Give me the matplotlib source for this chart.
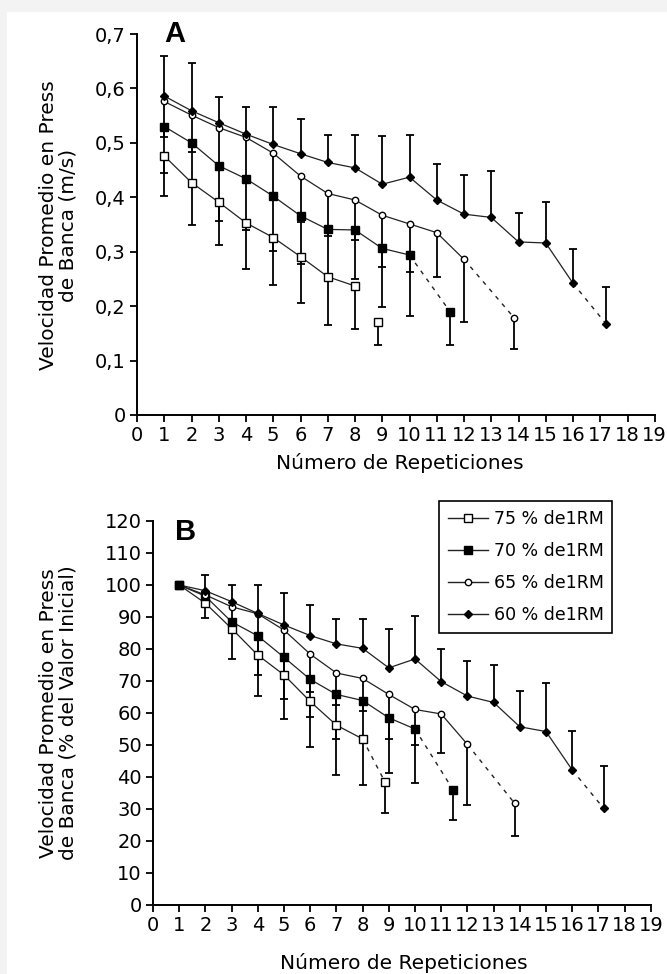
import numpy as np
import matplotlib
matplotlib.use('Agg')
import matplotlib.pyplot as plt
from matplotlib.patches import Rectangle
from matplotlib.lines import Line2D

plt.rcParams['font.family'] = ['DejaVu Sans']

# ---------------- Panel A data (m/s) ----------------
xA_75 = [1, 2, 3, 4, 5, 6, 7, 8, 8.83]
vA_75 = [0.476, 0.427, 0.391, 0.353, 0.326, 0.291, 0.254, 0.237, 0.171]
loA_75 = [0.074, 0.077, 0.079, 0.085, 0.087, 0.086, 0.089, 0.079, 0.042]
hiA_75 = [0, 0, 0, 0, 0, 0, 0, 0, 0]

xA_70 = [1, 2, 3, 4, 5, 6, 7, 8, 9, 10, 11.5]
vA_70 = [0.530, 0.500, 0.458, 0.434, 0.402, 0.366, 0.341, 0.340, 0.306, 0.294, 0.189]
loA_70 = [0.085, 0.073, 0.102, 0.094, 0.101, 0.089, 0.090, 0.090, 0.107, 0.113, 0.060]
hiA_70 = [0] * 11

xA_65 = [1, 2, 3, 4, 5, 6, 7, 8, 9, 10, 11, 12, 13.85]
vA_65 = [0.576, 0.551, 0.528, 0.510, 0.481, 0.439, 0.407, 0.395, 0.367, 0.351, 0.335, 0.286, 0.178]
loA_65 = [0.065, 0.067, 0.070, 0.070, 0.079, 0.084, 0.079, 0.073, 0.095, 0.088, 0.081, 0.116, 0.056]
hiA_65 = [0] * 13

xA_60 = [1, 2, 3, 4, 5, 6, 7, 8, 9, 10, 11, 12, 13, 14, 15, 16, 17.22]
vA_60 = [0.586, 0.559, 0.537, 0.516, 0.497, 0.480, 0.464, 0.454, 0.424, 0.437,
         0.395, 0.369, 0.363, 0.318, 0.316, 0.242, 0.167]
loA_60 = [0] * 17
hiA_60 = [0.074, 0.087, 0.047, 0.050, 0.069, 0.064, 0.050, 0.060, 0.088, 0.078,
          0.067, 0.072, 0.085, 0.054, 0.075, 0.063, 0.068]

# ---------------- Panel B data (% of initial) ----------------
xB_75 = [1, 2, 3, 4, 5, 6, 7, 8, 8.85]
vB_75 = [100, 94.3, 86.4, 78.1, 71.9, 63.6, 56.2, 51.9, 38.5]
loB_75 = [0, 4.7, 9.6, 12.7, 13.8, 14.3, 15.6, 14.4, 9.9]
hiB_75 = [0] * 9

xB_70 = [1, 2, 3, 4, 5, 6, 7, 8, 9, 10, 11.46]
vB_70 = [100, 96.5, 88.5, 84.1, 77.4, 70.5, 65.8, 63.9, 58.5, 55.0, 35.9]
loB_70 = [0, 0, 0, 12.3, 13.0, 11.9, 13.9, 12.0, 17.4, 16.9, 9.3]
hiB_70 = [0] * 11

xB_65 = [1, 2, 3, 4, 5, 6, 7, 8, 9, 10, 11, 12, 13.8]
vB_65 = [100, 96.9, 93.2, 91.0, 85.9, 78.4, 72.5, 70.8, 65.8, 61.1, 59.7, 50.2, 31.8]
loB_65 = [0, 3, 5, 12.5, 13.5, 11.7, 10.1, 10.1, 13.9, 11.1, 12.3, 18.9, 10.2]
hiB_65 = [0] * 13

xB_60 = [1, 2, 3, 4, 5, 6, 7, 8, 9, 10, 11, 12, 13, 14, 15, 16, 17.2]
vB_60 = [100, 98.2, 94.8, 91.1, 87.5, 84.2, 81.6, 80.2, 74.1, 76.9,
         69.8, 65.3, 63.3, 55.7, 54.2, 42.2, 30.2]
loB_60 = [0] * 17
hiB_60 = [0, 4.9, 5.2, 8.9, 9.9, 9.5, 7.7, 9.1, 12.0, 13.5,
          10.1, 11.0, 11.7, 11.2, 15.3, 12.3, 13.3]

labels = ['75 % de1RM', '70 % de1RM', '65 % de1RM', '60 % de1RM']
x_ticks = list(range(0, 20))
yA_ticks = [0, 0.1, 0.2, 0.3, 0.4, 0.5, 0.6, 0.7]
yA_ticklabels = ['0', '0,1', '0,2', '0,3', '0,4', '0,5', '0,6', '0,7']
yB_ticks = list(range(0, 121, 10))

styles = [
    dict(marker='s', mfc='white', ms=6.0),
    dict(marker='s', mfc='black', ms=6.0),
    dict(marker='o', mfc='white', ms=4.6),
    dict(marker='D', mfc='black', ms=4.2),
]

W, H = 667, 974
fig = plt.figure(figsize=(W / 100, H / 100), dpi=100)
fig.patch.set_facecolor('#f3f3f3')
fig.patches.append(Rectangle((7 / W, 0), 1 - 7 / W, 1 - 12 / H, transform=fig.transFigure,
                             facecolor='white', edgecolor='none', zorder=-10))

LC = '#222222'
TICK_FS = 14
LABEL_FS = 14.5


def draw_series(ax, x, v, lo, hi, st, dashed_end=True):
    x = np.asarray(x, float); v = np.asarray(v, float)
    lo = np.asarray(lo, float); hi = np.asarray(hi, float)
    ax.plot(x[:-1], v[:-1], color=LC, lw=0.9, zorder=2)
    if dashed_end:
        ax.plot(x[-2:], v[-2:], color=LC, lw=1.0, ls=(0, (3, 4)), zorder=2)
    m = (lo > 0) | (hi > 0)
    ax.vlines(x[m], (v - lo)[m], (v + hi)[m], color='black', lw=1.3, zorder=2)
    mh = hi > 0
    ax.plot(x[mh], (v + hi)[mh], ls='none', marker='_', ms=6, mew=1.3, color='black', zorder=2)
    ml = lo > 0
    ax.plot(x[ml], (v - lo)[ml], ls='none', marker='_', ms=6, mew=1.3, color='black', zorder=2)
    ax.plot(x, v, ls='none', marker=st['marker'], mfc=st['mfc'], mec='black',
            ms=st['ms'], mew=1.0, zorder=4)


def style_axes(ax):
    for s in ['top', 'right']:
        ax.spines[s].set_visible(False)
    for s in ['left', 'bottom']:
        ax.spines[s].set_linewidth(1.4)
        ax.spines[s].set_color('black')
    ax.tick_params(direction='out', length=5, width=1.3, labelsize=TICK_FS, pad=3, colors='black')
    ax.set_facecolor('none')
    ax.set_xlim(0, 19)
    ax.set_xticks(x_ticks)
    ax.set_xticklabels([str(t) for t in x_ticks])


# ---------------- Panel A ----------------
axA = fig.add_axes([137 / W, 1 - 415 / H, 517.75 / W, 381 / H])
axA.set_ylim(0, 0.7)
for x, v, lo, hi, st, de in [(xA_75, vA_75, loA_75, hiA_75, styles[0], False),
                             (xA_70, vA_70, loA_70, hiA_70, styles[1], True),
                             (xA_65, vA_65, loA_65, hiA_65, styles[2], True),
                             (xA_60, vA_60, loA_60, hiA_60, styles[3], True)]:
    draw_series(axA, x, v, lo, hi, st, de)
style_axes(axA)
axA.set_yticks(yA_ticks)
axA.set_yticklabels(yA_ticklabels)

# ---------------- Panel B ----------------
axB = fig.add_axes([153 / W, 1 - 905 / H, 497.8 / W, 384 / H])
axB.set_ylim(0, 120)
for x, v, lo, hi, st in [(xB_75, vB_75, loB_75, hiB_75, styles[0]),
                         (xB_70, vB_70, loB_70, hiB_70, styles[1]),
                         (xB_65, vB_65, loB_65, hiB_65, styles[2]),
                         (xB_60, vB_60, loB_60, hiB_60, styles[3])]:
    draw_series(axB, x, v, lo, hi, st)
style_axes(axB)
axB.set_yticks(yB_ticks)
axB.set_yticklabels([str(t) for t in yB_ticks])

# legend
handles = [Line2D([], [], color=LC, lw=1.0, marker=st['marker'], mfc=st['mfc'], mec='black',
                  ms=st['ms'], mew=1.0) for st in styles]
leg = axB.legend(handles, labels, loc='upper left', bbox_to_anchor=(439 / W, 1 - 501 / H),
                 bbox_transform=fig.transFigure, frameon=True, fancybox=False,
                 edgecolor='black', framealpha=1, borderaxespad=0, handlelength=2.3,
                 labelspacing=0.82, handletextpad=0.35, borderpad=0.5, fontsize=12.5)
leg.get_frame().set_linewidth(1.2)

# texts
fig.text(175 / W, 1 - 34 / H, 'A', fontsize=21, fontweight='bold', ha='center', va='center',
         family='Liberation Sans')
fig.text(186 / W, 1 - 532 / H, 'B', fontsize=21, fontweight='bold', ha='center', va='center',
         family='Liberation Sans')
fig.text(58 / W, 1 - 225 / H, 'Velocidad Promedio en Press\nde Banca (m/s)', rotation=90,
         ha='center', va='center', multialignment='center', fontsize=LABEL_FS, linespacing=1.05)
fig.text(58 / W, 1 - 713 / H, 'Velocidad Promedio en Press\nde Banca (% del Valor Inicial)',
         rotation=90, ha='center', va='center', multialignment='center', fontsize=LABEL_FS,
         linespacing=1.05)
fig.text(400 / W, 1 - 463 / H, 'Número de Repeticiones', ha='center', va='center', fontsize=LABEL_FS)
fig.text(404 / W, 1 - 963 / H, 'Número de Repeticiones', ha='center', va='center', fontsize=LABEL_FS)

fig.savefig('out.png', dpi=100, facecolor=fig.get_facecolor())
